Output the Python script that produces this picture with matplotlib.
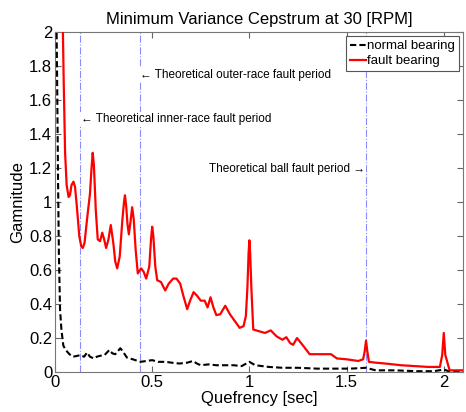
import matplotlib
matplotlib.use("Agg")
import matplotlib.pyplot as plt

plt.rcParams['font.family'] = ['Liberation Sans', 'DejaVu Sans']

# quefrency [sec] / magnitude
fault_q = [0.040, 0.045, 0.052, 0.060, 0.070, 0.077, 0.085, 0.095, 0.103, 0.112,
           0.125, 0.135, 0.143, 0.152, 0.165, 0.180, 0.188, 0.194, 0.200, 0.210,
           0.220, 0.232, 0.243, 0.253, 0.263, 0.275, 0.287, 0.300, 0.310, 0.320,
           0.333, 0.347, 0.355, 0.360, 0.366, 0.373, 0.380, 0.388, 0.397, 0.405,
           0.415, 0.426, 0.443, 0.456, 0.469, 0.485, 0.494, 0.500, 0.506, 0.516,
           0.526, 0.545, 0.567, 0.585, 0.608, 0.625, 0.644, 0.660, 0.680, 0.695,
           0.713, 0.730, 0.750, 0.770, 0.785, 0.800, 0.815, 0.830, 0.850, 0.876,
           0.900, 0.925, 0.950, 0.970, 0.982, 0.990, 0.996, 1.000, 1.004, 1.010,
           1.020, 1.050, 1.080, 1.110, 1.140, 1.170, 1.190, 1.210, 1.225, 1.245,
           1.280, 1.310, 1.360, 1.420, 1.450, 1.500, 1.560, 1.585, 1.593, 1.600,
           1.607, 1.615, 1.650, 1.700, 1.780, 1.850, 1.920, 1.980, 1.992, 2.000,
           2.008, 2.030, 2.100]
fault_mag = [2.05, 1.70, 1.29, 1.10, 1.03, 1.04, 1.10, 1.12, 1.09, 0.98,
             0.80, 0.74, 0.73, 0.76, 0.90, 1.05, 1.20, 1.29, 1.22, 0.95,
             0.78, 0.77, 0.82, 0.78, 0.73, 0.78, 0.865, 0.76, 0.65, 0.61,
             0.68, 0.90, 1.00, 1.04, 0.98, 0.87, 0.81, 0.88, 0.97, 0.90,
             0.72, 0.58, 0.61, 0.59, 0.55, 0.62, 0.78, 0.855, 0.80, 0.62,
             0.54, 0.53, 0.48, 0.52, 0.55, 0.55, 0.52, 0.45, 0.37, 0.42,
             0.47, 0.45, 0.42, 0.42, 0.38, 0.44, 0.38, 0.335, 0.34, 0.39,
             0.34, 0.30, 0.26, 0.27, 0.33, 0.50, 0.70, 0.775, 0.70, 0.50,
             0.25, 0.24, 0.23, 0.245, 0.21, 0.19, 0.205, 0.17, 0.16, 0.20,
             0.15, 0.105, 0.105, 0.105, 0.08, 0.075, 0.065, 0.075, 0.12, 0.185,
             0.12, 0.06, 0.055, 0.05, 0.04, 0.035, 0.03, 0.03, 0.10, 0.23,
             0.10, 0.01, 0.01]

normal_q = [0.008, 0.012, 0.016, 0.020, 0.026, 0.033, 0.043, 0.055, 0.074, 0.093,
            0.114, 0.130, 0.150, 0.165, 0.180, 0.200, 0.215, 0.230, 0.255, 0.280,
            0.295, 0.310, 0.325, 0.336, 0.350, 0.370, 0.400, 0.440, 0.470, 0.500,
            0.530, 0.570, 0.600, 0.640, 0.680, 0.710, 0.730, 0.750, 0.790, 0.830,
            0.880, 0.920, 0.960, 1.000, 1.030, 1.100, 1.170, 1.250, 1.350, 1.430,
            1.520, 1.600, 1.650, 1.750, 1.860, 1.950, 2.000, 2.030, 2.100]
normal_mag = [2.05, 1.60, 1.10, 0.70, 0.37, 0.25, 0.155, 0.13, 0.105, 0.09,
              0.095, 0.10, 0.09, 0.115, 0.09, 0.08, 0.09, 0.095, 0.10, 0.13,
              0.11, 0.105, 0.125, 0.14, 0.12, 0.085, 0.075, 0.06, 0.065, 0.07,
              0.06, 0.06, 0.055, 0.05, 0.055, 0.065, 0.05, 0.04, 0.045, 0.04,
              0.04, 0.04, 0.035, 0.06, 0.04, 0.03, 0.025, 0.025, 0.02, 0.02,
              0.02, 0.025, 0.01, 0.01, 0.005, 0.005, 0.015, 0.003, 0.003]

# theoretical fault periods [sec]
inner_period = 0.129
outer_period = 0.438
ball_period = 1.60

fig = plt.figure(figsize=(4.66, 4.12), dpi=100)
ax = fig.add_axes([0.118, 0.097, 0.876, 0.825])

ax.plot(normal_q, normal_mag, color='black', linestyle='--', linewidth=1.5,
        dashes=(3, 1.5), label='normal bearing', zorder=4)
ax.plot(fault_q, fault_mag, color='red', linewidth=1.6, label='fault bearing', zorder=5)

for p in [inner_period, outer_period, ball_period]:
    ax.axvline(p, color='#8c8cff', linestyle='-.', linewidth=0.8, zorder=1)

box = dict(facecolor='white', edgecolor='none', pad=0.5)
ax.text(outer_period, 1.75, '\u2190 Theoretical outer-race fault period', fontsize=8.5,
        va='center', ha='left', bbox=box, zorder=3)
ax.text(inner_period + 0.005, 1.49, '\u2190 Theoretical inner-race fault period', fontsize=8.5,
        va='center', ha='left', bbox=box, zorder=3)
ax.text(ball_period - 0.005, 1.195, 'Theoretical ball fault period \u2192', fontsize=8.5,
        va='center', ha='right', bbox=box, zorder=3)

ax.set_xlim(0, 2.1)
ax.set_ylim(0, 2)
ax.set_xticks([0, 0.5, 1, 1.5, 2])
ax.set_xticklabels(['0', '0.5', '1', '1.5', '2'])
ax.set_yticks([0, 0.2, 0.4, 0.6, 0.8, 1, 1.2, 1.4, 1.6, 1.8, 2])
ax.set_yticklabels(['0', '0.2', '0.4', '0.6', '0.8', '1', '1.2', '1.4', '1.6', '1.8', '2'])
ax.tick_params(direction='in', top=True, right=True, labelsize=12, length=4,
               color='#666666', pad=2)
for s in ax.spines.values():
    s.set_color('#777777')

ax.set_xlabel('Quefrency [sec]', fontsize=12, labelpad=1)
ax.set_ylabel('Gamnitude', fontsize=12, labelpad=3)
ax.set_title('Minimum Variance Cepstrum at 30 [RPM]', fontsize=12, pad=6)

leg = ax.legend(loc='upper right', fontsize=9.5, handlelength=1.2, handletextpad=0.1,
                borderpad=0.3, labelspacing=0.2, borderaxespad=0.3, fancybox=False,
                framealpha=1)
leg.get_frame().set_edgecolor('#555555')
leg.get_frame().set_linewidth(0.8)

fig.savefig('out.png', dpi=100)
